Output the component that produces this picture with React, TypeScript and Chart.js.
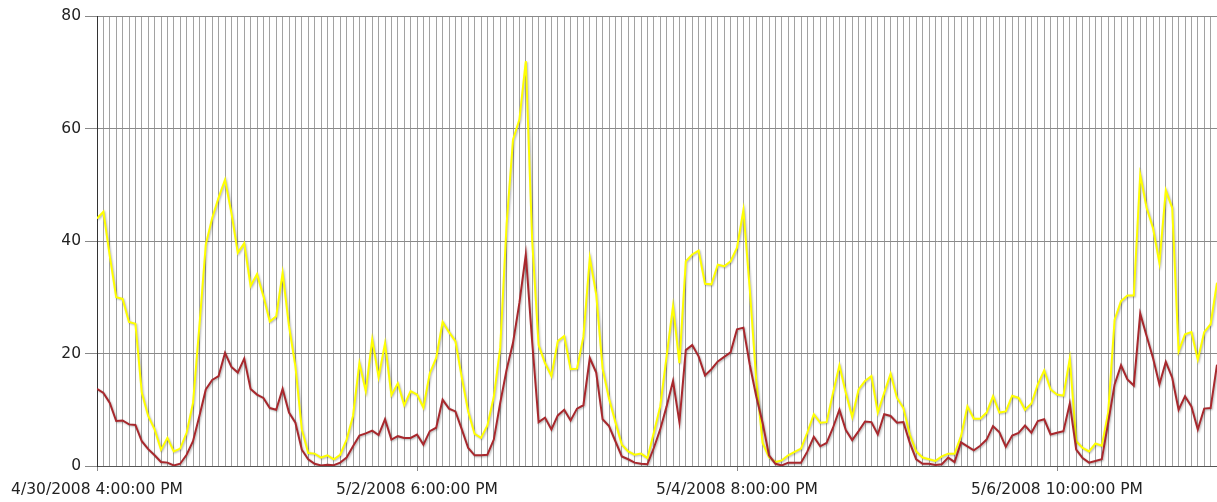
import React, { useEffect, useRef } from 'react';
import { Chart, registerables } from 'chart.js';

Chart.register(...registerables);

const tickLabels = [
  '4/30/2008 4:00:00 PM',
  '5/2/2008 6:00:00 PM',
  '5/4/2008 8:00:00 PM',
  '5/6/2008 10:00:00 PM',
];
const labelEvery = 50;

const yellowSeries = [
  44, 45.2, 37.3, 30, 29.7, 25.6, 25.3, 13, 8.9, 6.5,
  2.9, 5.0, 2.6, 3.1, 5.9, 11.2, 24.9, 39.4, 44.1, 47.7,
  50.9, 45, 37.9, 39.6, 32, 34.1, 30.2, 25.7, 26.6, 34.3,
  24.9, 17.7, 6.5, 2.3, 2.2, 1.5, 1.9, 1.2, 2.0, 4.7,
  8.9, 18.3, 13.3, 22.5, 15.8, 21.8, 12.6, 14.7, 10.8, 13.3,
  12.7, 10.4, 16.5, 19.2, 25.6, 23.8, 22.2, 15.7, 9.7, 5.7,
  5.0, 7.2, 12.3, 21, 43, 58, 61.6, 72, 40, 21.5,
  18.3, 16, 22.2, 23.1, 17.2, 17.3, 23, 37, 30.5, 17.3,
  12, 7.8, 3.8, 2.6, 2.0, 2.2, 1.4, 5.9, 10.6, 19.5,
  28.4, 18.3, 36.4, 37.6, 38.3, 32.4, 32.3, 35.8, 35.5, 36.4,
  38.8, 45.5, 31.4, 15.4, 4.1, 1.6, 0.7, 1.0, 1.9, 2.5,
  3.1, 6.0, 9.2, 7.7, 7.8, 13.0, 17.9, 13.0, 8.7, 13.6,
  15.1, 16.0, 9.5, 13.0, 16.4, 12.1, 10.3, 5.6, 2.6, 1.5,
  1.2, 0.9, 1.7, 2.2, 2.2, 5.3, 10.6, 8.4, 8.4, 9.5,
  12.4, 9.5, 9.7, 12.5, 12.1, 10.0, 11.1, 14.5, 17.0, 13.6,
  12.7, 12.5, 19.1, 4.4, 3.2, 2.6, 4.0, 3.6, 9.5, 26.0,
  29.3, 30.3, 30.3, 51.8, 45.9, 42.3, 36.1, 49.0, 45.9, 20.4,
  23.4, 23.8, 18.9, 23.8, 25.2, 32.6,
];

const redSeries = [
  13.7, 13.0, 11.2, 8.0, 8.1, 7.4, 7.3, 4.4, 3.0, 1.9,
  0.7, 0.6, 0.1, 0.4, 2.0, 4.4, 8.9, 13.6, 15.3, 16.0,
  20.1, 17.6, 16.6, 19.1, 13.7, 12.7, 12.1, 10.3, 10.0, 13.7,
  9.5, 7.7, 2.9, 1.2, 0.4, 0.1, 0.2, 0.15, 0.6, 1.5,
  3.5, 5.4, 5.8, 6.3, 5.5, 8.3, 4.7, 5.3, 5.0, 5.0,
  5.6, 3.8, 6.2, 6.8, 11.8, 10.2, 9.7, 6.5, 3.2, 1.9,
  1.9, 2.0, 4.7, 11.2, 17.1, 21.9, 29, 37.6, 22, 7.8,
  8.6, 6.5, 9.0, 10.0, 8.1, 10.2, 10.8, 19.2, 16.6, 8.3,
  7.1, 4.4, 1.7, 1.2, 0.6, 0.4, 0.3, 3.2, 6.5, 10.6,
  15.1, 7.8, 20.6, 21.5, 19.5, 16.1, 17.2, 18.6, 19.4, 20.2,
  24.3, 24.6, 18.0, 12.4, 7.7, 1.9, 0.4, 0.1, 0.6, 0.6,
  0.6, 2.6, 5.2, 3.5, 4.1, 6.8, 10.0, 6.4, 4.6, 6.2,
  7.9, 7.8, 5.6, 9.2, 8.9, 7.7, 7.8, 4.1, 1.2, 0.4,
  0.4, 0.2, 0.3, 1.5, 0.7, 4.2, 3.5, 2.8, 3.6, 4.7,
  7.1, 6.0, 3.4, 5.4, 5.9, 7.2, 5.9, 8.0, 8.3, 5.6,
  5.9, 6.2, 11.1, 2.9, 1.4, 0.6, 0.9, 1.2, 7.7, 14.5,
  17.9, 15.4, 14.3, 27.1, 23.1, 19.2, 14.5, 18.5, 15.7, 10.0,
  12.4, 10.6, 6.5, 10.2, 10.3, 18.0,
];

const hours = yellowSeries.map((_, i) => i);

const FONT = { family: 'DejaVu Sans', size: 15.5 };

const shadowPlugin = {
  id: 'lineShadow',
  beforeDatasetDraw(chart: any) {
    const ctx = chart.ctx;
    ctx.save();
    ctx.shadowColor = 'rgba(0,0,0,0.3)';
    ctx.shadowBlur = 2;
    ctx.shadowOffsetX = 1;
    ctx.shadowOffsetY = 1;
  },
  afterDatasetDraw(chart: any) {
    chart.ctx.restore();
  },
};

export default function App() {
  const canvasRef = useRef<HTMLCanvasElement | null>(null);

  useEffect(() => {
    if (!canvasRef.current) return;
    const chart = new Chart(canvasRef.current, {
      type: 'line',
      data: {
        labels: hours,
        datasets: [
          {
            label: 'Red',
            data: redSeries,
            borderColor: '#a8282d',
            borderWidth: 2,
            pointRadius: 0,
            tension: 0,
            fill: false,
          },
          {
            label: 'Yellow',
            data: yellowSeries,
            borderColor: '#ffff00',
            borderWidth: 2,
            pointRadius: 0,
            tension: 0,
            fill: false,
          },
        ],
      },
      options: {
        animation: false,
        responsive: false,
        maintainAspectRatio: false,
        layout: { padding: { top: 16, right: 0, bottom: 0, left: 0 } },
        plugins: {
          legend: { display: false },
          tooltip: { enabled: false },
        },
        scales: {
          x: {
            type: 'linear',
            min: 0,
            max: hours.length - 1,
            afterFit: (s: any) => {
              s.height = 36;
              s.paddingRight = 0;
            },
            grid: {
              color: '#a2a2a2',
              lineWidth: 1,
              drawTicks: true,
              tickLength: 5,
              tickColor: (ctx: any) =>
                ctx.tick && ctx.tick.value % labelEvery === 0 ? '#888888' : 'rgba(0,0,0,0)',
            },
            border: { color: '#555555' },
            ticks: {
              stepSize: 1,
              autoSkip: false,
              maxRotation: 0,
              minRotation: 0,
              padding: 10,
              color: '#222222',
              font: FONT,
              callback: (v: any) =>
                Number(v) % labelEvery === 0 ? tickLabels[Number(v) / labelEvery] ?? '' : '',
            },
          },
          y: {
            min: 0,
            max: 80,
            afterFit: (s: any) => {
              s.width = 97;
            },
            grid: {
              color: '#8a8a8a',
              lineWidth: 1,
              tickLength: 12,
              tickColor: '#888888',
            },
            border: { color: '#333333' },
            ticks: {
              stepSize: 20,
              padding: 4,
              color: '#222222',
              font: FONT,
            },
          },
        },
      },
      plugins: [shadowPlugin],
    } as any);
    return () => chart.destroy();
  }, []);

  return (
    <div style={{ position: 'fixed', left: 0, top: 0, width: 1217, height: 502, background: '#fff' }}>
      <canvas ref={canvasRef} width={1217} height={502} style={{ display: 'block' }} />
    </div>
  );
}
